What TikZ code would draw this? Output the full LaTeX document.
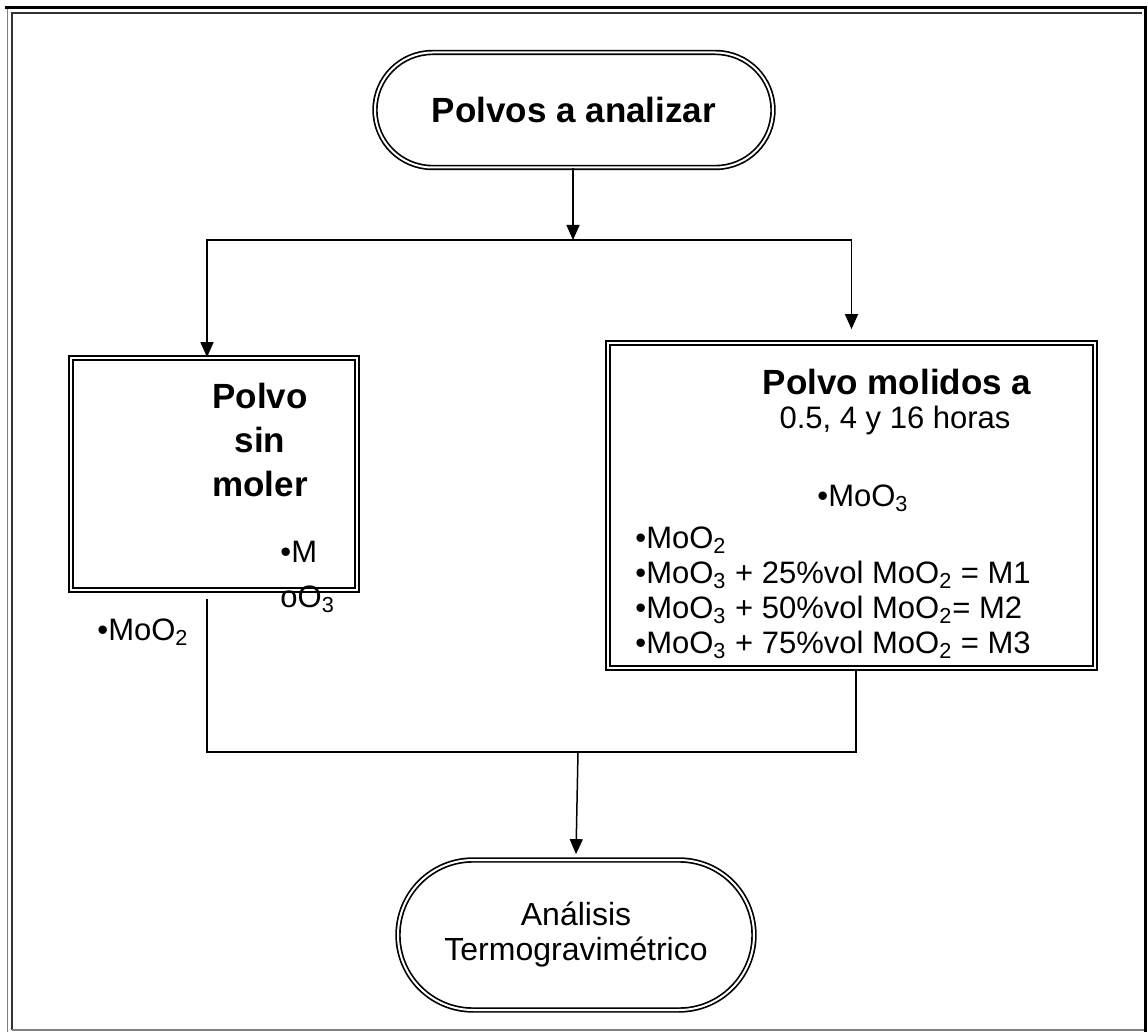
\documentclass[tikz,border=0pt]{standalone}
\usepackage{fontspec}
\setmainfont{Liberation Sans}
\usetikzlibrary{arrows.meta,shapes.misc}

\begin{document}
\begin{tikzpicture}[
    x=0.5pt,y=-0.5pt,
    every node/.style={inner sep=0pt},
    terminal/.style={rounded rectangle,draw,line width=0.85pt,double,double distance=1pt},
    procbox/.style={rectangle,draw,line width=0.85pt,double,double distance=1pt},
    title/.style={font=\fontsize{17.5}{22}\selectfont\bfseries,align=center},
    body/.style={font=\fontsize{15.5}{17.5}\selectfont,align=left},
    flow/.style={line width=0.75pt},
    arrow/.style={flow,-{Triangle[length=7.5pt,width=6.5pt]}}
]
\useasboundingbox (0,0) rectangle (1148,1032);

% page frame
\draw [gray,line width=0.5pt] (7,8) -- (7,1032);
\draw [line width=1.5pt] (5,8) -- (1145.5,8) -- (1145.5,1032);
\draw [black!80,line width=0.6pt] (12,1030) -- (12,13) -- (1142,13);
\draw [gray,line width=0.6pt] (12,1030) -- (1144,1030);

\node [terminal,title,minimum width=199pt,minimum height=57.5pt] (polvos) at (574,110) {Polvos a analizar};

\node [procbox,minimum width=143pt,minimum height=116pt] (sinmoler) at (214,474) {};
\node [title] (sinmolertxt) at (260,440) {Polvo\\sin\\moler};
\node [body,anchor=west,font=\fontsize{15.5}{22.5}\selectfont] (cortado) at (280,577) {•M\\oO\textsubscript{3}};
\node [body,anchor=west] (dioxido) at (97,632) {•MoO\textsubscript{2}};

\node [procbox,minimum width=243.5pt,minimum height=162.5pt] (molidos) at (851.5,505.5) {};
\node [title] (molidostxt) at (897,382) {Polvo molidos a};
\node [body] (horas) at (895,420) {0.5, 4 y 16 horas};
\node [body,anchor=west] (trioxido) at (817,498) {•MoO\textsubscript{3}};
\node [body,anchor=west] (mezclas) at (635,593) {•MoO\textsubscript{2}\\
    •MoO\textsubscript{3} + 25\%vol MoO\textsubscript{2} = M1\\
    •MoO\textsubscript{3} + 50\%vol MoO\textsubscript{2}= M2\\
    •MoO\textsubscript{3} + 75\%vol MoO\textsubscript{2} = M3};

\node [terminal,minimum width=178pt,minimum height=75pt,align=center,font=\fontsize{16}{17.5}\selectfont] (tga) at (576,935) {Análisis\\Termogravimétrico};

\coordinate (split) at (573,240);
\coordinate (merge) at (578,752);

\draw [arrow] (split |- polvos.south) -- (split);
\draw [arrow] (split) -| ([xshift=-3.5pt]sinmoler.north);
\draw [arrow] (split) -| ([yshift=6.5pt]molidos.north);

\draw [flow] ([xshift=-3.5pt,yshift=-4pt]sinmoler.south) |- (merge);
\draw [flow] ([xshift=2.25pt]molidos.south) |- (merge);
\draw [arrow] (merge) -- ([yshift=2.5pt]tga.north);

\end{tikzpicture}
\end{document}
